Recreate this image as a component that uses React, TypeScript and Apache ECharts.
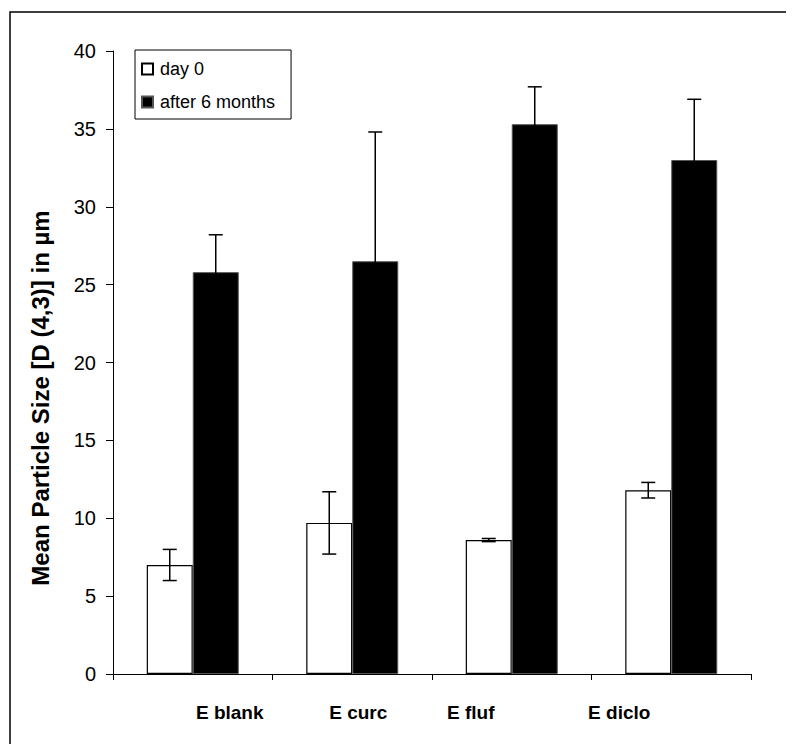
import React, { useEffect, useRef } from "react";
import * as echarts from "echarts";

const categories = ["E blank", "E curc", "E fluf", "E diclo"];
const day0 = [7.0, 9.7, 8.6, 11.8];
const day0Err = [1.0, 2.0, 0.1, 0.5];
const months6 = [25.8, 26.5, 35.3, 33.0];
const months6Err = [2.4, 8.3, 2.4, 3.9];
const seriesNames = ["day 0", "after 6 months"];
const yTitle = "Mean Particle Size [D (4,3)] in µm";

// horizontal shift of each category label (style)
const labelShift = [37, 6, -41, -52];
const BAR_W = 46;

function errorSeries(values: number[], errs: number[], dir: number) {
  return {
    type: "custom",
    silent: true,
    z: 10,
    data: values.map((v, i) => [i, v, errs[i]]),
    renderItem: (params: any, api: any) => {
      const idx = api.value(0);
      const v = api.value(1);
      const e = api.value(2);
      const c = api.coord([idx, v]);
      const x = c[0] + dir * BAR_W / 2;
      const top = api.coord([idx, v + e])[1];
      const bot = api.coord([idx, v - e])[1];
      const cap = 7;
      const style = { stroke: "#000", lineWidth: 1.5 };
      return {
        type: "group",
        children: [
          { type: "line", shape: { x1: x, y1: top, x2: x, y2: bot }, style },
          { type: "line", shape: { x1: x - cap, y1: top, x2: x + cap, y2: top }, style },
          { type: "line", shape: { x1: x - cap, y1: bot, x2: x + cap, y2: bot }, style },
        ],
      };
    },
  };
}

export default function App() {
  const ref = useRef<HTMLDivElement>(null);
  useEffect(() => {
    const chart = echarts.init(ref.current!, null, { renderer: "svg" });
    const font = "'Liberation Sans', Arial, sans-serif";
    chart.setOption({
      animation: false,
      backgroundColor: "#fff",
      textStyle: { fontFamily: font },
      graphic: [
        {
          type: "rect",
          shape: { x: 2, y: 4, width: 1000, height: 1000 },
          style: { fill: "none", stroke: "#000", lineWidth: 1.5 },
          silent: true,
        },
        {
          type: "text",
          x: 32,
          y: 390,
          rotation: Math.PI / 2,
          style: {
            text: yTitle,
            font: `bold 24px ${font}`,
            fill: "#000",
            align: "center",
            verticalAlign: "middle",
          },
        },
      ],
      legend: {
        orient: "vertical",
        left: 127,
        top: 42,
        data: seriesNames,
        itemWidth: 11,
        itemHeight: 11,
        itemGap: 13,
        icon: "rect",
        borderColor: "#000",
        borderWidth: 1,
        padding: [9, 16, 7, 6],
        textStyle: {
          fontSize: 18,
          lineHeight: 20,
          color: "#000",
          fontFamily: font,
          padding: [0, 0, 0, 2],
        },
      },
      grid: { left: 105, top: 43, width: 638, bottom: 70, containLabel: false },
      xAxis: {
        type: "category",
        data: categories,
        axisLine: { lineStyle: { color: "#000", width: 1 } },
        axisTick: { show: true, length: 6, lineStyle: { color: "#000" } },
        axisLabel: {
          margin: 29,
          formatter: (val: string, i: number) => `{l${i}|${val}}`,
          rich: Object.fromEntries(
            labelShift.map((d, i) => [
              `l${i}`,
              {
                fontSize: 19,
                fontWeight: "bold",
                color: "#000",
                fontFamily: font,
                padding: d >= 0 ? [0, 0, 0, 2 * d] : [0, -2 * d, 0, 0],
              },
            ])
          ),
        },
      },
      yAxis: {
        type: "value",
        min: 0,
        max: 40,
        interval: 5,
        splitLine: { show: false },
        axisLine: { show: true, lineStyle: { color: "#000", width: 1 } },
        axisTick: { show: true, length: 7, lineStyle: { color: "#000" } },
        axisLabel: { fontSize: 20, color: "#000", margin: 17, fontFamily: font },
      },
      series: [
        {
          name: seriesNames[0],
          type: "bar",
          data: day0,
          barWidth: BAR_W,
          barGap: "0%",
          itemStyle: { color: "#fff", borderColor: "#000", borderWidth: 1.2 },
        },
        {
          name: seriesNames[1],
          type: "bar",
          data: months6,
          barWidth: BAR_W,
          barGap: "0%",
          itemStyle: { color: "#000", borderColor: "#555", borderWidth: 1 },
        },
        errorSeries(day0, day0Err, -1),
        errorSeries(months6, months6Err, 1),
      ],
    });
    return () => chart.dispose();
  }, []);
  return <div ref={ref} style={{ width: 786, height: 736 }} />;
}
